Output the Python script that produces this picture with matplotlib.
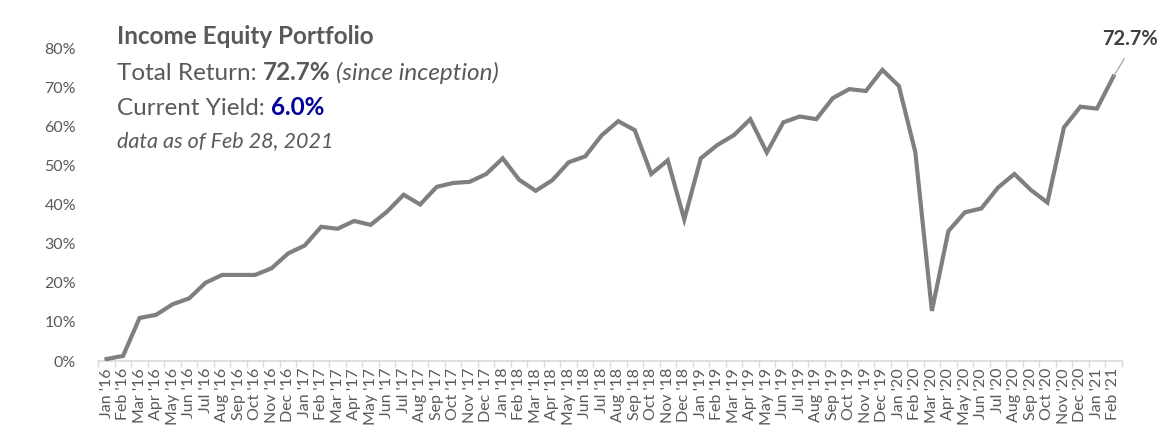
import numpy as np
import matplotlib
matplotlib.use('Agg')
import matplotlib.pyplot as plt
from matplotlib.ticker import PercentFormatter, FixedLocator

#monthly cumulative total return, Jan 2016 - Feb 2021
months = ['Jan', 'Feb', 'Mar', 'Apr', 'May', 'Jun', 'Jul', 'Aug', 'Sep', 'Oct', 'Nov', 'Dec']
labels = []
for yr in range(16, 22):
    for m in months:
        labels.append(m + " '" + str(yr))
labels = labels[:62]

returns = [0.5, 1.3, 11.0, 11.8, 14.5, 16.0, 20.0, 22.0, 22.0, 22.0, 23.7, 27.5,
           29.5, 34.3, 33.8, 35.8, 34.8, 38.2, 42.5, 40.0, 44.5, 45.5, 45.8, 47.8,
           51.8, 46.3, 43.5, 46.2, 50.8, 52.3, 57.7, 61.3, 59.0, 47.8, 51.3, 36.2,
           51.8, 55.2, 57.7, 61.8, 53.3, 61.0, 62.5, 61.8, 67.2, 69.5, 69.0, 74.4,
           70.3, 53.3, 12.8, 33.2, 38.0, 39.0, 44.3, 47.8, 43.7, 40.5, 59.7, 65.0,
           64.5, 72.7]
returns = np.array(returns) / 100.0

title = 'Income Equity Portfolio'
total_return = '72.7%'
current_yield = '6.0%'
as_of = 'data as of Feb 28, 2021'

plt.rcParams['font.family'] = ['Lato', 'DejaVu Sans']
txtgray = '#595959'
linegray = '#7f7f7f'

W, H = 1172, 448
fig = plt.figure(figsize=(W / 100, H / 100), dpi=100)
ax = fig.add_axes([98.3 / W, (H - 361) / H, 1023.4 / W, 313 / H])

x = np.arange(len(returns))
ax.plot(x, returns, color=linegray, lw=3.0, solid_joinstyle='miter', zorder=3)

ax.set_xlim(-0.5, len(returns) - 0.5)
ax.set_ylim(0, 0.8)
ax.set_yticks(np.arange(0, 0.81, 0.1))
ax.yaxis.set_major_formatter(PercentFormatter(1.0, decimals=0))
ax.set_xticks(x)
ax.set_xticklabels(labels, rotation=90)
ax.xaxis.set_minor_locator(FixedLocator(np.arange(-0.5, len(returns), 1)))

for s in ['top', 'right', 'left']:
    ax.spines[s].set_visible(False)
ax.spines['bottom'].set_color('#d9d9d9')
ax.spines['bottom'].set_linewidth(1.2)
ax.tick_params(axis='x', which='major', length=0, pad=5, labelsize=11.5, labelcolor=txtgray)
ax.tick_params(axis='x', which='minor', length=4, color='#d9d9d9', width=1)
ax.tick_params(axis='y', length=0, pad=16, labelsize=11.5, labelcolor=txtgray)

#label on the last point with a leader line
ax.annotate(total_return, xy=(x[-1], returns[-1]), xytext=(17, 28), textcoords='offset pixels',
            ha='center', va='bottom', fontsize=14.5, fontweight='bold', color='#404040',
            annotation_clip=False,
            arrowprops=dict(arrowstyle='-', color='#a6a6a6', lw=0.9, shrinkA=6, shrinkB=0,
                            relpos=(0.5, 0)))

#text block with mixed styles
renderer = fig.canvas.get_renderer()

def put_parts(px, py, parts, size):
    for txt, weight, style, color in parts:
        t = fig.text(px / W, py / H, txt, fontsize=size, fontweight=weight, fontstyle=style,
                     color=color, va='baseline', ha='left')
        bb = t.get_window_extent(renderer)
        px = bb.x1 + 6

put_parts(117, H - 44, [(title, 'bold', 'normal', txtgray)], 17.5)
put_parts(117, H - 80, [('Total Return:', 'normal', 'normal', txtgray),
                        (total_return, 'bold', 'normal', txtgray),
                        ('(since inception)', 'normal', 'italic', txtgray)], 17.5)
put_parts(117, H - 115, [('Current Yield:', 'normal', 'normal', txtgray),
                         (current_yield, 'bold', 'normal', '#000099')], 17.5)
put_parts(117, H - 147, [(as_of, 'normal', 'italic', txtgray)], 15.5)

fig.savefig('out.png', dpi=100)
